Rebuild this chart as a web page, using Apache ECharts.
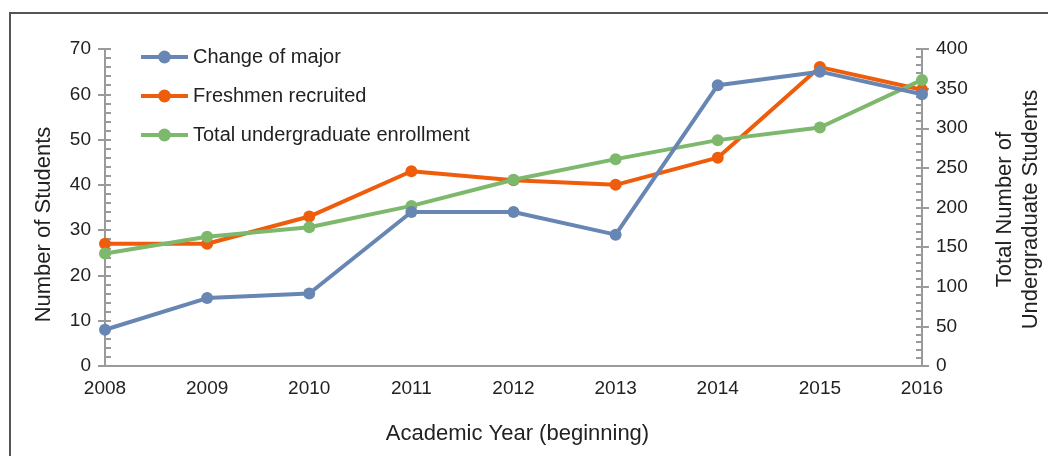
<!DOCTYPE html>
<html>
<head>
<meta charset="utf-8">
<script src="https://cdn.jsdelivr.net/npm/echarts@6/dist/echarts.min.js"></script>
<style>
    html, body { margin: 0; padding: 0; background: #fff; }
    #chart { width: 1048px; height: 456px; }
</style>
</head>
<body>
<div id="chart"></div>
<script>
// Academic years (beginning)
const years = ['2008', '2009', '2010', '2011', '2012', '2013', '2014', '2015', '2016'];
// Left axis: number of students
const changeOfMajor = [8, 15, 16, 34, 34, 29, 62, 65, 60];
const freshmenRecruited = [27, 27, 33, 43, 41, 40, 46, 66, 61];
// Right axis: total undergraduate enrollment
const totalEnrollment = [142, 163, 175, 202, 235, 261, 285, 301, 361];

const font = '"Liberation Sans", Arial, Helvetica, sans-serif';
const textColor = '#222';
const axisColor = '#9a9a9a';
const gridLeft = 105;
const gridRight = 126;
const plotWidth = 1048 - gridLeft - gridRight;

const chart = echarts.init(document.getElementById('chart'));

// A value axis with labels, name and the outer half of the major ticks
const mainAxis = (position, max, interval, name, nameGap, namePadding) => ({
    type: 'value',
    position: position,
    min: 0,
    max: max,
    interval: interval,
    name: name,
    nameLocation: 'middle',
    nameGap: nameGap,
    nameRotate: 90,
    nameTextStyle: {
        color: textColor,
        fontFamily: font,
        fontSize: 22,
        lineHeight: 26,
        padding: namePadding
    },
    axisLine: { show: true, lineStyle: { color: axisColor, width: 2 } },
    axisTick: { show: true, inside: false, length: 7, lineStyle: { color: axisColor, width: 2 } },
    axisLabel: { color: textColor, fontFamily: font, fontSize: 19, margin: 14 },
    splitLine: { show: false }
});

// Overlay axis placed on the opposite side, so its ticks point into the plot
const innerTickAxis = (position, max, interval) => ({
    type: 'value',
    position: position,
    offset: -plotWidth,
    min: 0,
    max: max,
    interval: interval,
    axisLine: { show: false },
    axisTick: { show: true, inside: false, length: 6, lineStyle: { color: axisColor, width: 2 } },
    minorTick: { show: true, splitNumber: 5, length: 6, lineStyle: { color: axisColor, width: 2 } },
    axisLabel: { show: false },
    splitLine: { show: false }
});

const lineSeries = (name, data, color, yAxisIndex, z) => ({
    name: name,
    type: 'line',
    data: data,
    yAxisIndex: yAxisIndex,
    z: z,
    symbol: 'circle',
    symbolSize: 12,
    color: color,
    lineStyle: { width: 4, color: color },
    itemStyle: { color: color }
});

chart.setOption({
    animation: false,
    grid: { left: gridLeft, right: gridRight, top: 49, bottom: 90, outerBoundsMode: 'none' },
    legend: {
        orient: 'vertical',
        left: 139,
        top: 47,
        padding: 0,
        itemWidth: 47,
        itemHeight: 16,
        itemGap: 19,
        lineStyle: { width: 4 },
        textStyle: { color: textColor, fontFamily: font, fontSize: 20 },
        data: ['Change of major', 'Freshmen recruited', 'Total undergraduate enrollment']
    },
    xAxis: {
        type: 'category',
        data: years,
        boundaryGap: false,
        name: 'Academic Year (beginning)',
        nameLocation: 'middle',
        nameGap: 57,
        nameTextStyle: { color: textColor, fontFamily: font, fontSize: 22, padding: [0, 0, 0, 8] },
        axisLine: { lineStyle: { color: axisColor, width: 2 } },
        axisTick: { show: false },
        axisLabel: { color: textColor, fontFamily: font, fontSize: 19, margin: 13 }
    },
    yAxis: [
        mainAxis('left', 70, 10, 'Number of Students', 48, [0, 34, 0, 0]),
        mainAxis('right', 400, 50, 'Total Number of\nUndergraduate Students', 70, [0, 4, 0, 0]),
        innerTickAxis('right', 70, 10),
        innerTickAxis('left', 400, 50)
    ],
    graphic: [
        {
            type: 'polyline',
            shape: { points: [[10, 456], [10, 13], [1048, 13]] },
            style: { stroke: '#555', lineWidth: 2, fill: null },
            silent: true
        }
    ],
    series: [
        lineSeries('Change of major', changeOfMajor, '#6886b4', 0, 4),
        lineSeries('Freshmen recruited', freshmenRecruited, '#ee5d0b', 0, 2),
        lineSeries('Total undergraduate enrollment', totalEnrollment, '#7db86c', 1, 3)
    ]
});
</script>
</body>
</html>
